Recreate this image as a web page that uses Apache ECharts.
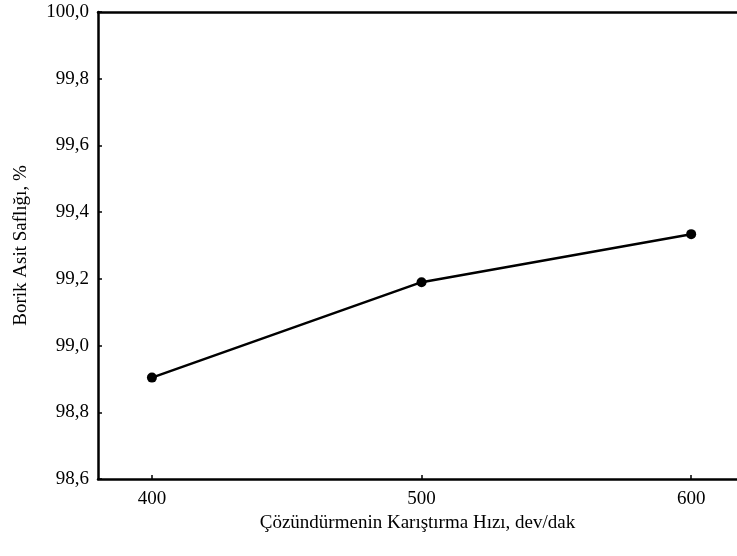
<!DOCTYPE html>
<html>
<head>
<meta charset="utf-8">
<script src="https://cdn.jsdelivr.net/npm/echarts@6/dist/echarts.min.js"></script>
<style>
  html, body { margin: 0; padding: 0; background: #fff; }
  #chart { width: 737px; height: 556px; }
</style>
</head>
<body>
<div id="chart"></div>
<script>
// Stirring speed of dissolution (rpm) vs. boric acid purity (%)
const speeds = [400, 500, 600];
const purity = [98.904, 99.19, 99.334];
const xTicks = [400, 500, 600];
const yTicks = [98.6, 98.8, 99.0, 99.2, 99.4, 99.6, 99.8, 100.0];

const FONT = '"Liberation Serif", "DejaVu Serif", serif';
const X_MIN = 380, X_MAX = 617;

const chart = echarts.init(document.getElementById('chart'), null, { renderer: 'canvas' });

chart.setOption({
  animation: false,
  backgroundColor: '#ffffff',
  grid: { left: 98, top: 12, right: 0, bottom: 77, containLabel: false, outerBoundsMode: 'none' },
  xAxis: [{
    type: 'value',
    min: X_MIN,
    max: X_MAX,
    name: 'Çözündürmenin Karıştırma Hızı, dev/dak',
    nameLocation: 'middle',
    nameGap: 33,
    nameTextStyle: { fontFamily: FONT, fontSize: 19, color: '#000' },
    axisLine: { onZero: false, lineStyle: { color: '#000', width: 2.5 } },
    axisTick: {
      show: true, inside: true, length: 4,
      customValues: xTicks,
      lineStyle: { color: '#000', width: 1.5 }
    },
    axisLabel: {
      customValues: xTicks,
      margin: 11,
      fontFamily: FONT, fontSize: 19, color: '#000'
    },
    splitLine: { show: false }
  }, {
    // top frame line
    type: 'value', position: 'top', min: X_MIN, max: X_MAX,
    axisLine: { show: true, onZero: false, lineStyle: { color: '#000', width: 2.5 } },
    axisTick: { show: false },
    axisLabel: { show: false },
    splitLine: { show: false }
  }],
  yAxis: {
    type: 'value',
    min: 98.6,
    max: 100.0,
    name: 'Borik Asit Saflığı, %',
    nameLocation: 'middle',
    nameGap: 67,
    nameRotate: 90,
    nameTextStyle: { fontFamily: FONT, fontSize: 19, color: '#000' },
    axisLine: { show: true, lineStyle: { color: '#000', width: 2.5 } },
    axisTick: {
      show: true, inside: true, length: 4,
      customValues: yTicks,
      lineStyle: { color: '#000', width: 1.5 }
    },
    axisLabel: {
      customValues: yTicks,
      margin: 9,
      fontFamily: FONT, fontSize: 19, color: '#000',
      formatter: v => v.toFixed(1).replace('.', ',')
    },
    splitLine: { show: false }
  },
  series: [{
    type: 'line',
    xAxisIndex: 0,
    data: speeds.map((s, i) => [s, purity[i]]),
    symbol: 'circle',
    symbolSize: 10,
    itemStyle: { color: '#000' },
    lineStyle: { color: '#000', width: 2.5 },
    z: 5
  }]
});
</script>
</body>
</html>
